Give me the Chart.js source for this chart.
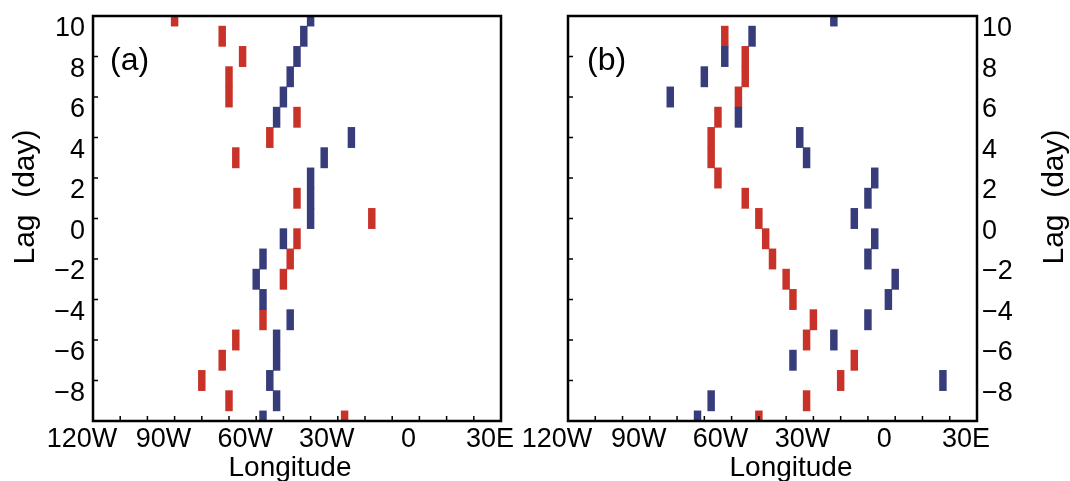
<!DOCTYPE html>
<html>
<head>
<meta charset="utf-8">
<script src="https://cdn.jsdelivr.net/npm/chart.js@4/dist/chart.umd.min.js"></script>
<style>
  body { margin: 0; background: #fff; }
  .panel { position: absolute; top: 0; height: 481px; }
  #wrap-a { left: 0; width: 535px; }
  #wrap-b { left: 505px; width: 565px; }
</style>
</head>
<body>
<div class="panel" id="wrap-a"><canvas id="chart-a"></canvas></div>
<div class="panel" id="wrap-b"><canvas id="chart-b"></canvas></div>
<script>
// lag (day), top to bottom
const lags = [10, 9, 8, 7, 6, 5, 4, 3, 2, 1, 0, -1, -2, -3, -4, -5, -6, -7, -8, -9, -10];

// longitude (deg, negative = W) of each mark per lag; null = no mark
const blueA = [-40, -42.5, -45, -47.5, -50, -52.5, -25, -35, -40, -40, -40,
  -50, -57.5, -60, -57.5, -47.5, -52.5, -52.5, -55, -52.5, -57.5];
const redA = [-90, -72.5, -65, -70, -70, -45, -55, -67.5, null, -45, -17.5,
  -45, -47.5, -50, null, -57.5, -67.5, -72.5, -80, -70, -27.5];

const blueB = [-22.5, -52.5, -62.5, -70, -82.5, -57.5, -35, -32.5, -7.5, -10, -15,
  -7.5, -10, 0, -2.5, -10, -22.5, -37.5, 17.5, -67.5, -72.5];
const redB = [null, -62.5, -55, -55, -57.5, -65, -67.5, -67.5, -65, -55, -50,
  -47.5, -45, -40, -37.5, -30, -32.5, -15, -20, -32.5, -50];

const lonTicks = { "-120": "120W", "-90": "90W", "-60": "60W", "-30": "30W", "0": "0", "30": "30E" };

const RED = "rgb(200, 50, 40)";
const BLUE = "rgb(55, 60, 122)";
const FONT = "'Liberation Sans', Arial, sans-serif";
const HALF = 1.25; // half width of a 2.5 deg grid box

function toBars(lons) {
  return lags
    .map((lag, i) => (lons[i] === null ? null : { y: lag, x: [lons[i] - HALF, lons[i] + HALF] }))
    .filter(Boolean);
}

// frame, inward ticks and titles
const framePlugin = {
  id: "frame",
  afterDraw(chart, args, opts) {
    const { ctx, chartArea: a } = chart;
    const xs = chart.scales.x;
    const ys = chart.scales.y;
    ctx.save();
    ctx.strokeStyle = "#000";
    ctx.lineWidth = 1.5;
    ctx.beginPath();
    for (let v = -110; v < 30; v += 10) {
      const px = xs.getPixelForValue(v);
      ctx.moveTo(px, a.bottom);
      ctx.lineTo(px, a.bottom - 5);
    }
    for (let v = -8; v < 10; v += 2) {
      const py = ys.getPixelForValue(v);
      ctx.moveTo(a.left, py);
      ctx.lineTo(a.left + 5, py);
    }
    ctx.stroke();
    ctx.lineWidth = 2.5;
    ctx.strokeRect(a.left, a.top, a.right - a.left, a.bottom - a.top);

    ctx.fillStyle = "#000";
    ctx.font = "32px " + FONT;
    ctx.textAlign = "left";
    ctx.textBaseline = "alphabetic";
    ctx.fillText(opts.label, opts.labelX, 70);

    ctx.font = "28px " + FONT;
    ctx.textAlign = "center";
    ctx.fillText("Longitude", opts.xTitleX, 476);

    ctx.translate(opts.yTitleX, 197);
    ctx.rotate(-Math.PI / 2);
    ctx.textBaseline = "middle";
    ctx.font = "30px " + FONT;
    ctx.fillText("Lag  (day)", 0, 0);
    ctx.restore();
  },
};

function makeChart(canvasId, blue, red, side, frame) {
  return new Chart(document.getElementById(canvasId).getContext("2d"), {
    type: "bar",
    data: {
      datasets: [
        { label: "blue", data: toBars(blue), backgroundColor: BLUE },
        { label: "red", data: toBars(red), backgroundColor: RED },
      ],
    },
    options: {
      indexAxis: "y",
      responsive: true,
      maintainAspectRatio: false,
      animation: false,
      grouped: false,
      barPercentage: 1,
      categoryPercentage: 1,
      borderWidth: 0,
      layout: {
        padding: side === "left"
          ? { left: 0, right: 34, top: 16, bottom: 0 }
          : { left: 63, right: 0, top: 16, bottom: 0 },
      },
      scales: {
        x: {
          type: "linear",
          min: -120,
          max: 30,
          grid: { display: false, drawTicks: false },
          border: { display: false },
          ticks: {
            stepSize: 10,
            autoSkip: false,
            maxRotation: 0,
            padding: 2,
            labelOffset: -11,
            color: "#000",
            font: { family: FONT, size: 27 },
            callback: (v) => lonTicks[String(v)] || "",
          },
          afterFit: (s) => { s.height = 60; s.paddingLeft = 0; s.paddingRight = 0; },
        },
        y: {
          type: "linear",
          position: side,
          min: -10,
          max: 10,
          offset: false,
          grid: { display: false, drawTicks: false },
          border: { display: false },
          ticks: {
            stepSize: 2,
            autoSkip: false,
            padding: side === "left" ? 8 : 5,
            labelOffset: 13,
            color: "#000",
            font: { family: FONT, size: 27 },
            callback: (v) => (v === -10 ? "" : v < 0 ? "\u2212" + Math.abs(v) : String(v)),
          },
          afterFit: (s) => { s.width = 93; s.paddingTop = 0; s.paddingBottom = 0; },
        },
      },
      plugins: {
        legend: { display: false },
        tooltip: { enabled: false },
        frame: frame,
      },
    },
    plugins: [framePlugin],
  });
}

makeChart("chart-a", blueA, redA, "left", { label: "(a)", labelX: 110, xTitleX: 290, yTitleX: 26 });
makeChart("chart-b", blueB, redB, "right", { label: "(b)", labelX: 82, xTitleX: 286, yTitleX: 550 });
</script>
</body>
</html>
